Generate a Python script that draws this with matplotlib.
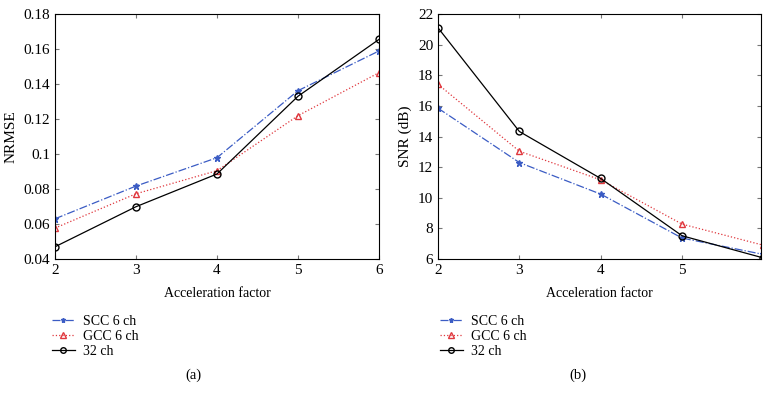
import numpy as np
import matplotlib.pyplot as plt

plt.rcParams['font.family'] = ['Liberation Serif', 'DejaVu Serif']
plt.rcParams['font.size'] = 9

# Data
accel = [2, 3, 4, 5, 6]

nrmse_scc = [0.0630, 0.0817, 0.0979, 0.1362, 0.1589]
nrmse_gcc = [0.0577, 0.0773, 0.0905, 0.1219, 0.1465]
nrmse_32 = [0.0470, 0.0699, 0.0886, 0.1330, 0.1655]

snr_scc = [15.85, 12.30, 10.24, 7.37, 6.30]
snr_gcc = [17.41, 13.04, 11.17, 8.28, 6.90]
snr_32 = [21.10, 14.33, 11.26, 7.52, 6.07]

labels = ['SCC 6 ch', 'GCC 6 ch', '32 ch']

blue = '#3b5cc4'
red = '#e0383e'


def draw(ax, scc, gcc, ch32):
    ax.plot(accel, scc, linestyle='-.', color=blue, marker='*', markersize=4.5,
            linewidth=0.9, label=labels[0])
    ax.plot(accel, gcc, linestyle=':', color=red, marker='^', markersize=5,
            markerfacecolor='none', linewidth=0.9, label=labels[1])
    ax.plot(accel, ch32, linestyle='-', color='black', marker='o', markersize=5,
            markerfacecolor='none', linewidth=0.9, label=labels[2])
    ax.tick_params(direction='in', top=True, right=True, length=3,
                   color='#777777', labelsize=11)
    for s in ax.spines.values():
        s.set_linewidth(0.8)
    ax.set_xlabel('Acceleration factor', fontsize=10, labelpad=7)


fig = plt.figure(figsize=(7.69, 4.01), dpi=100)

ax1 = fig.add_axes([0.0715, 0.354, 0.4213, 0.611])
draw(ax1, nrmse_scc, nrmse_gcc, nrmse_32)
ax1.set_xlim(2, 6)
ax1.set_ylim(0.04, 0.18)
ax1.set_xticks([2, 3, 4, 5, 6])
ax1.set_yticks(np.arange(0.04, 0.181, 0.02))
ax1.set_yticklabels(['0.04', '0.06', '0.08', '0.1', '0.12', '0.14', '0.16', '0.18'])
ax1.set_ylabel('NRMSE', fontsize=11, labelpad=4)

ax2 = fig.add_axes([0.5696, 0.354, 0.42, 0.611])
draw(ax2, snr_scc, snr_gcc, snr_32)
ax2.set_xlim(2, 5.97)
ax2.set_ylim(6, 22)
ax2.set_xticks([2, 3, 4, 5])
ax2.set_yticks(range(6, 23, 2))
ax2.set_ylabel('SNR (dB)', fontsize=11, labelpad=4)

for ax, x0 in [(ax1, 0.0676), (ax2, 0.572)]:
    ax.legend(loc='upper left', bbox_to_anchor=(x0, 0.215), bbox_transform=fig.transFigure,
              frameon=False, fontsize=10, handlelength=1.65, handletextpad=0.6,
              labelspacing=0.15, borderpad=0, borderaxespad=0, markerscale=0.8)

fig.text(0.252, 0.065, '(a)', ha='center', va='center', fontsize=10.5)
fig.text(0.752, 0.065, '(b)', ha='center', va='center', fontsize=10.5)

fig.savefig('out.png', dpi=100)
